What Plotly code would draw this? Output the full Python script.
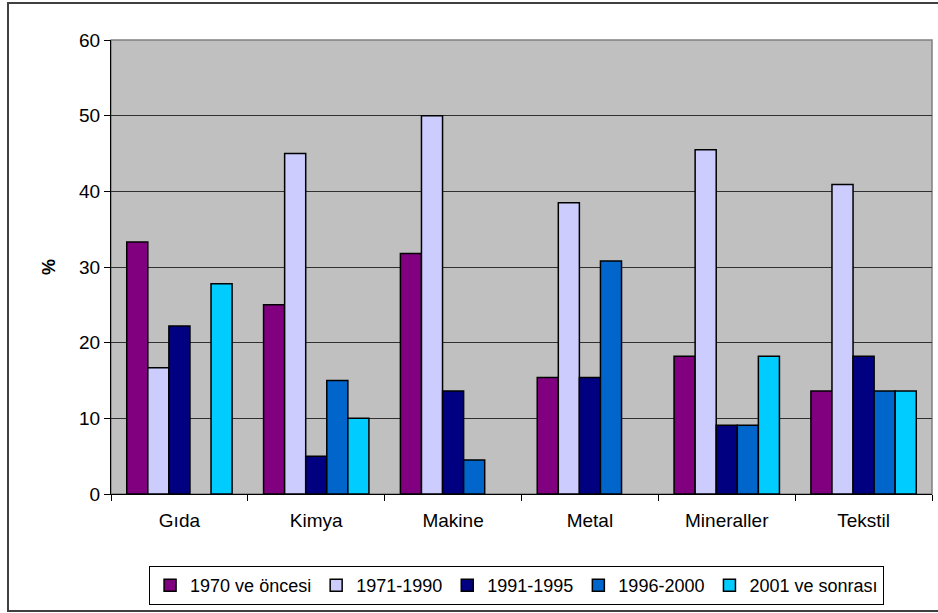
import plotly.graph_objects as go

categories = ["Gıda", "Kimya", "Makine", "Metal", "Mineraller", "Tekstil"]
series_names = ["1970 ve öncesi", "1971-1990", "1991-1995", "1996-2000", "2001 ve sonrası"]
v1970 = [33.3, 25.0, 31.8, 15.4, 18.2, 13.6]
v1971_1990 = [16.7, 45.0, 50.0, 38.5, 45.5, 40.9]
v1991_1995 = [22.2, 5.0, 13.6, 15.4, 9.1, 18.2]
v1996_2000 = [None, 15.0, 4.5, 30.8, 9.1, 13.6]
v2001 = [27.8, 10.0, None, None, 18.2, 13.6]
colors = ["#800080", "#CCCCFF", "#000080", "#0066CC", "#00CCFF"]
y_ticks = [0, 10, 20, 30, 40, 50, 60]

series_values = [v1970, v1971_1990, v1991_1995, v1996_2000, v2001]

fig = go.Figure()
for name, vals, col in zip(series_names, series_values, colors):
    fig.add_trace(go.Bar(
        x=categories, y=vals, name=name,
        marker=dict(color=col, line=dict(color="black", width=1.5)),
    ))

W, H = 938, 613
ml, mr, mt, mb = 111, 6, 40, 119
pw, ph = W - ml - mr, H - mt - mb

def px_x(x):
    return (x - ml) / pw

def px_y(y):
    return (H - mb - y) / ph

fig.update_layout(
    width=W, height=H,
    margin=dict(l=ml, r=mr, t=mt, b=mb, autoexpand=False),
    paper_bgcolor="white",
    plot_bgcolor="#C0C0C0",
    barmode="group",
    bargap=0.23,
    bargroupgap=0,
    font=dict(family="Liberation Sans, Arial, sans-serif", size=19, color="black"),
    showlegend=True,
    legend=dict(
        orientation="h",
        x=0.494, xanchor="center",
        y=px_y(566), yanchor="top",
        bordercolor="black", borderwidth=1,
        bgcolor="white",
        font=dict(size=18),
        itemwidth=30,
        tracegroupgap=0,
    ),
    xaxis=dict(
        type="category",
        automargin=False,
        showline=True, linecolor="black", linewidth=1,
        ticks="outside", ticklen=6, tickcolor="black",
        tickson="boundaries",
        ticklabelstandoff=9,
        showgrid=False,
        tickfont=dict(size=19),
    ),
    yaxis=dict(
        range=[0, 60],
        automargin=False,
        tickvals=y_ticks,
        showline=True, linecolor="black", linewidth=1,
        ticks="outside", ticklen=6, tickcolor="black",
        showgrid=True, gridcolor="#303030", gridwidth=1,
        zeroline=False,
        tickfont=dict(size=19),
        title=dict(text="<b>%</b>", font=dict(size=18), standoff=18),
    ),
    shapes=[
        # plot area frame (gray)
        dict(type="rect", xref="paper", yref="paper", x0=0, x1=1, y0=0, y1=1,
             line=dict(color="#808080", width=1.5), layer="below"),
        # chart outer border
        dict(type="rect", xref="paper", yref="paper",
             x0=px_x(8), x1=px_x(950), y0=px_y(611), y1=px_y(3),
             line=dict(color="#404040", width=2)),
    ],
)

fig.write_html(
    "out.html",
    config={"displayModeBar": False},
    post_script="document.body.style.margin='0';document.body.style.overflow='hidden';",
)
